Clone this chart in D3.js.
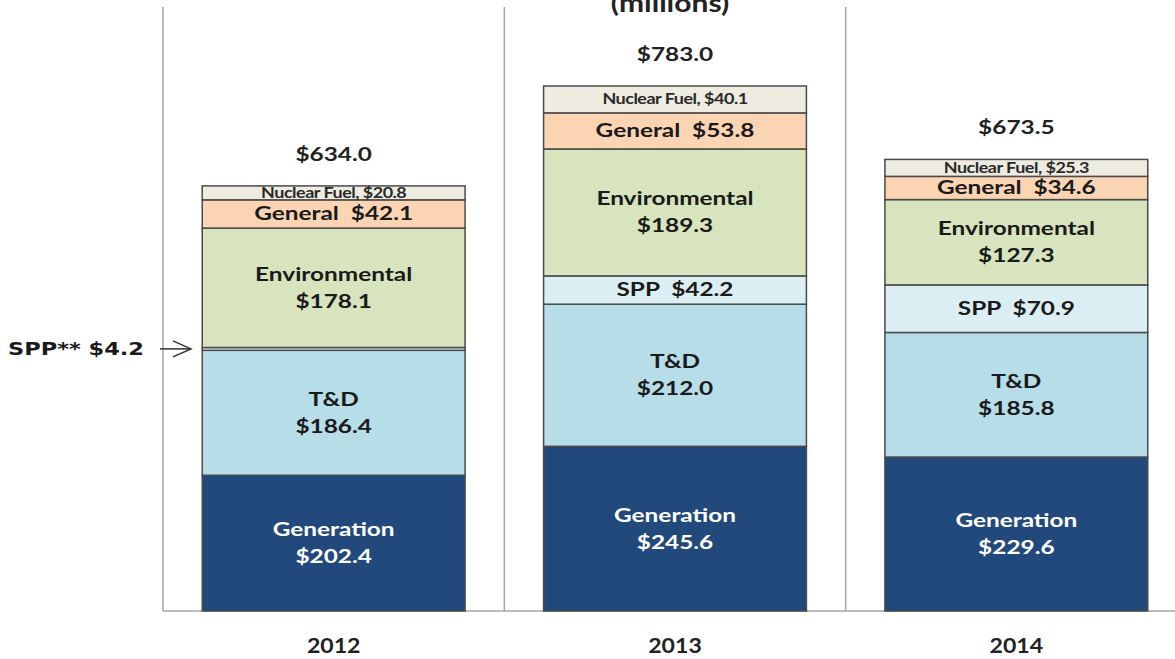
<!DOCTYPE html>
<html>
<head>
<meta charset="utf-8">
<script src="https://cdn.jsdelivr.net/npm/d3@7"></script>
<style>
  html, body { margin: 0; padding: 0; background: #ffffff; }
  svg { display: block; }
  text { font-family: Lato, "Open Sans", sans-serif; font-weight: bold; white-space: pre; }
</style>
</head>
<body>
<svg id="chart" width="1175" height="659"></svg>
<script>
// ---------- data ----------
const years = ["2012", "2013", "2014"];
const seriesNames = ["Generation", "T&D", "SPP", "Environmental", "General", "Nuclear Fuel"];
const generation = [202.4, 245.6, 229.6];
const tnd = [186.4, 212.0, 185.8];
const spp = [4.2, 42.2, 70.9];
const environmental = [178.1, 189.3, 127.3];
const general = [42.1, 53.8, 34.6];
const nuclearFuel = [20.8, 40.1, 25.3];
const totals = [634.0, 783.0, 673.5];
const titleText = "(millions)";
const sppNote = "SPP** $4.2";

const seriesValues = [generation, tnd, spp, environmental, general, nuclearFuel];
const colors = ["#22497c", "#b7dde8", "#dbeef4", "#d7e4bd", "#fbd4b4", "#eeece1"];
const labelStyle = ["two", "two", "one", "two", "one", "small"];

const table = years.map((y, i) => {
  const row = { year: y };
  seriesNames.forEach((s, k) => row[s] = seriesValues[k][i]);
  return row;
});

// ---------- layout ----------
const W = 1175, H = 659;
const left = 163, right = 1187, baseY = 611;
const svg = d3.select("#chart");
const fmt = v => "$" + d3.format(".1f")(v);
const SX = 1.25; // horizontal stretch of the source picture

const xSep = d3.scaleBand().domain(years).range([left, right]).padding(0);
const x = d3.scaleBand().domain(years).range([left, right]).paddingInner(0.23).paddingOuter(0.115);
const y = d3.scaleLinear().domain([0, 800]).range([baseY, baseY - 800 * 0.6705]);

const stack = d3.stack().keys(seriesNames)(table);

// separators & baseline
const sepG = svg.append("g");
years.forEach(yr => {
  sepG.append("line")
    .attr("x1", xSep(yr)).attr("x2", xSep(yr))
    .attr("y1", 7).attr("y2", baseY)
    .attr("stroke", "#a6a6a6").attr("stroke-width", 1.5);
});
svg.append("line").attr("x1", left).attr("x2", W).attr("y1", baseY).attr("y2", baseY)
  .attr("stroke", "#a6a6a6").attr("stroke-width", 1.5);

// title (partially cut in the source, as here)
svg.append("text").attr("transform", `translate(670,12) scale(${SX},1)`)
  .attr("text-anchor", "middle").attr("font-size", 24).attr("fill", "#222").text(titleText);

// bars
const layers = svg.append("g").selectAll("g").data(stack).join("g")
  .attr("fill", (d, i) => colors[i]);
layers.selectAll("rect").data(d => d).join("rect")
  .attr("x", d => x(d.data.year))
  .attr("width", x.bandwidth())
  .attr("y", d => y(d[1]))
  .attr("height", d => y(d[0]) - y(d[1]))
  .attr("stroke", "#4a4a4a").attr("stroke-width", 1.5);

// labels in segments
const lg = svg.append("g");
stack.forEach((layer, k) => {
  layer.forEach((d, i) => {
    const name = seriesNames[k];
    const val = d[1] - d[0];
    if (name === "SPP" && years[i] === "2012") return;
    const cx = x(d.data.year) + x.bandwidth() / 2;
    const cy = (y(d[0]) + y(d[1])) / 2;
    const fill = k === 0 ? "#ffffff" : "#1a1a1a";
    const style = labelStyle[k];
    if (style === "two") {
      lg.append("text").attr("transform", `translate(${cx},${cy - 7}) scale(${SX},1)`)
        .attr("text-anchor", "middle").attr("font-size", 19.5).attr("fill", fill).text(name);
      lg.append("text").attr("transform", `translate(${cx},${cy + 20}) scale(${SX},1)`)
        .attr("text-anchor", "middle").attr("font-size", 19.5).attr("fill", fill).text(fmt(val));
    } else if (style === "one") {
      lg.append("text").attr("transform", `translate(${cx},${cy + 6}) scale(${SX},1)`)
        .attr("text-anchor", "middle").attr("font-size", 19.5).attr("fill", fill)
        .text(name + "  " + fmt(val));
    } else {
      lg.append("text").attr("transform", `translate(${cx},${cy + 5}) scale(${SX},1)`)
        .attr("text-anchor", "middle").attr("font-size", 14.4).attr("fill", "#2a2a2a")
        .attr("letter-spacing", -0.4)
        .text(name + ", " + fmt(val));
    }
  });
});

// totals
years.forEach((yr, i) => {
  svg.append("text").attr("transform", `translate(${x(yr) + x.bandwidth() / 2},${y(totals[i]) - 25}) scale(${SX},1)`)
    .attr("text-anchor", "middle").attr("font-size", 19.5).attr("fill", "#222").text(fmt(totals[i]));
});

// year axis labels
years.forEach(yr => {
  svg.append("text").attr("transform", `translate(${xSep(yr) + xSep.bandwidth() / 2},653) scale(1.1,1)`)
    .attr("text-anchor", "middle").attr("font-size", 21).attr("fill", "#222").text(yr);
});

// SPP annotation with arrow
const sppY = (y(generation[0] + tnd[0]) + y(generation[0] + tnd[0] + spp[0])) / 2;
svg.append("text").attr("transform", `translate(8,${sppY + 6.5}) scale(${SX},1)`)
  .style("font-family", "'DejaVu Sans', Verdana, sans-serif")
  .attr("font-size", 18).attr("fill", "#1a1a1a").text(sppNote);
const arrow = svg.append("g").attr("stroke", "#333").attr("stroke-width", 1.5).attr("fill", "none");
arrow.append("line").attr("x1", 160).attr("x2", 191).attr("y1", sppY).attr("y2", sppY);
arrow.append("polyline").attr("points", `173,${sppY - 8} 191,${sppY} 173,${sppY + 8}`);
</script>
</body>
</html>
